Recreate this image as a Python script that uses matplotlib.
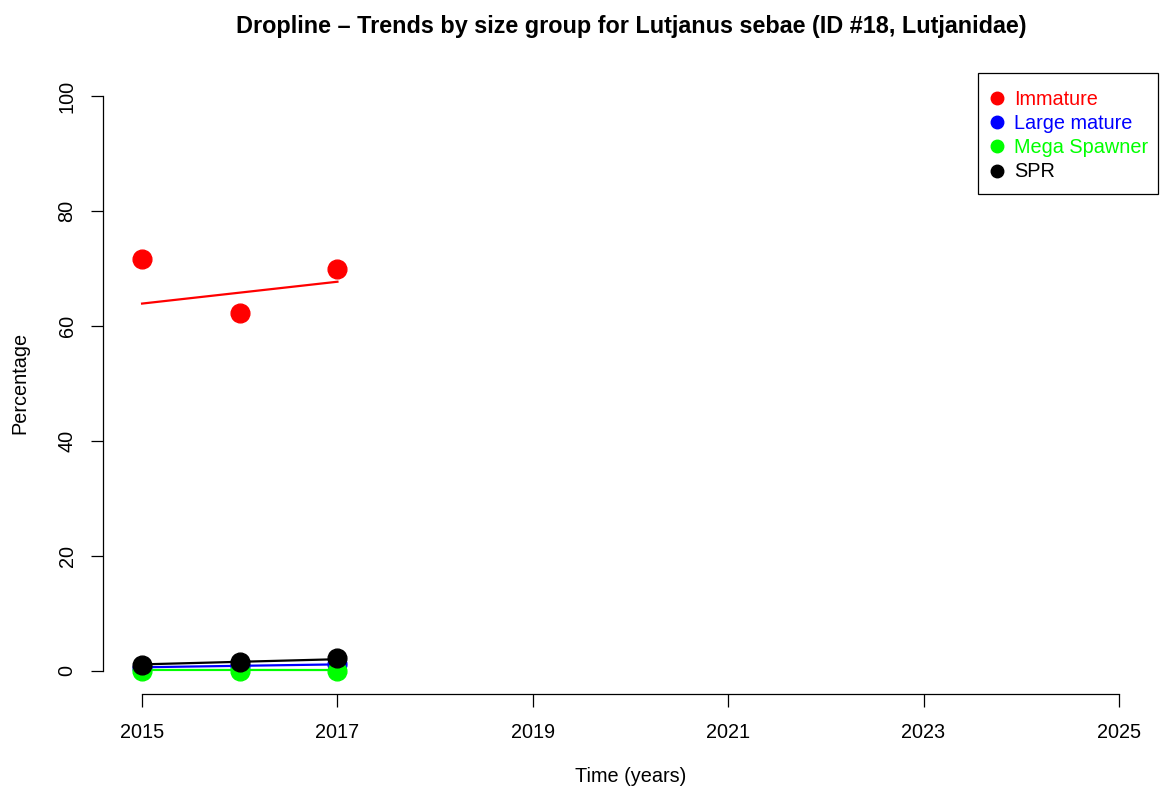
import matplotlib
matplotlib.use("Agg")
import matplotlib.pyplot as plt
from matplotlib.lines import Line2D
from matplotlib.patches import Rectangle

plt.rcParams["font.family"] = ["Liberation Sans", "DejaVu Sans"]

# data
years = [2015, 2016, 2017]
groups = ["Immature", "Large mature", "Mega Spawner", "SPR"]
colors = ["#ff0000", "#0000ff", "#00ff00", "#000000"]
immature = [71.6, 62.2, 69.9]
large_mature = [0.6, 0.9, 1.2]
mega_spawner = [0.0, 0.05, 0.0]
spr = [1.05, 1.65, 2.25]
# fitted trend lines as drawn
immature_trend = [63.9, 65.8, 67.7]
large_mature_trend = [0.65, 0.9, 1.15]
mega_spawner_trend = [0.18, 0.18, 0.17]
spr_trend = [1.15, 1.6, 2.05]

points = [immature, large_mature, mega_spawner, spr]
trends = [immature_trend, large_mature_trend, mega_spawner_trend, spr_trend]

W, H = 1163, 791
fig = plt.figure(figsize=(W / 100, H / 100), dpi=100)
ax = fig.add_axes([103 / W, 1 - 694 / H, (1158 - 103) / W, (694 - 73) / H])

for pts, tr, col in zip(points, trends, colors):
    ax.plot(years, pts, "o", color=col, markersize=13.5, zorder=3)
    ax.plot(years, tr, "-", color=col, lw=1.6, zorder=3)

ax.set_xlim(2015 - 0.4, 2025 + 0.4)
ax.set_ylim(-4, 104)
ax.set_xticks(range(2015, 2026, 2))
ax.set_yticks(range(0, 101, 20))
ax.tick_params(length=9, width=0.9, labelsize=14.3, pad=10)
ax.tick_params(axis="x", pad=12)
for lab in ax.get_yticklabels():
    lab.set_rotation(90)
    lab.set_va("center")

for s in ["top", "right"]:
    ax.spines[s].set_visible(False)
ax.spines["left"].set_bounds(0, 100)
ax.spines["bottom"].set_bounds(2015, 2025)
for s in ["left", "bottom"]:
    ax.spines[s].set_linewidth(0.9)

fig.text(631 / W, 1 - 26 / H,
         "Dropline \u2013 Trends by size group for Lutjanus sebae (ID #18, Lutjanidae)",
         ha="center", va="center", fontsize=16.8, fontweight="bold")
fig.text(631 / W, 1 - 777 / H, "Time (years)", ha="center", va="center", fontsize=14.3)
fig.text(20 / W, 1 - 383 / H, "Percentage", ha="center", va="center",
         rotation=90, fontsize=14.3)

# legend: frameless entries inside a hand-placed box (R-style)
fig.patches.append(Rectangle((978 / W, 1 - 194 / H), 180 / W, 121 / H,
                             transform=fig.transFigure, fill=False,
                             edgecolor="black", linewidth=0.9, zorder=5))
handles = [Line2D([0], [0], marker="o", ls="", color=c, markersize=9) for c in colors]
leg = fig.legend(handles, groups, loc="upper left",
                 bbox_to_anchor=(995 / W, 1 - 90 / H),
                 fontsize=14.3, frameon=False, borderaxespad=0, borderpad=0,
                 handletextpad=0.75, labelspacing=0.26, handlelength=0.2)
for t, c in zip(leg.get_texts(), colors):
    t.set_color(c)

fig.savefig("out.png", dpi=100)
